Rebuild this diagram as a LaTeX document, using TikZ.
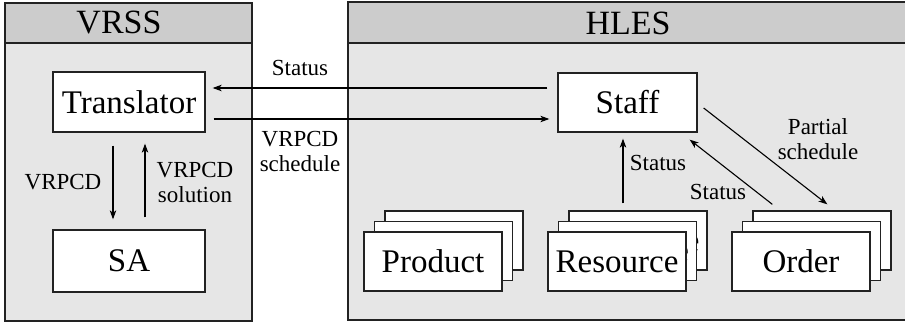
\documentclass[tikz,border=0pt]{standalone}
\usepackage{fontspec}
\setmainfont{Liberation Serif}
\usetikzlibrary{arrows.meta,calc}
\definecolor{headgrey}{HTML}{CCCCCC}
\definecolor{bodygrey}{HTML}{E6E6E6}
\definecolor{edgegrey}{HTML}{222222}

% three stacked cards: front one named #1, the ones behind #1M and #1B;
% #3 is the front label, #4 the label printed on the cards behind it
\newcommand\cardstack[4]{%
  \node[card] (#1B) at ($#2+(21,-21)$) {#4};
  \node[card] (#1M) at ($#2+(10.5,-10.5)$) {#4};
  \node[card] (#1)  at #2 {#3};
}

\begin{document}
\begin{tikzpicture}[x=1pt,y=-1pt,
  panelline/.style={draw=edgegrey, line width=2.2pt},
  box/.style={draw=edgegrey, line width=1.3pt, fill=white, inner sep=0pt,
    font=\fontsize{33}{36}\selectfont},
  card/.style={box, minimum width=138pt, minimum height=59pt},
  title/.style={inner sep=0pt, font=\fontsize{34}{36}\selectfont},
  lbl/.style={inner sep=0pt, align=center, font=\fontsize{23}{25}\selectfont},
  arr/.style={draw=black, line width=1.1pt, -{Stealth[length=9pt,width=6.5pt,inset=2.5pt]}}
]
\useasboundingbox (0,0) rectangle (905,323);

% the two subsystem panels
\draw[panelline, fill=bodygrey] (5,3) rectangle (252,321);
\draw[panelline, fill=headgrey] (5,3) rectangle (252,43);
\node[title] (vrss) at (119,23) {VRSS};

\draw[panelline, fill=bodygrey] (348,2) rectangle (915,320);
\draw[panelline, fill=headgrey] (348,2) rectangle (915,43);
\node[title] (hles) at (628,23) {HLES};

% VRSS components
\node[box, minimum width=152pt, minimum height=60pt] (Translator) at (129,102) {Translator};
\node[box, minimum width=152pt, minimum height=62pt] (SA) at (129,261) {SA};

% HLES components
\node[box, minimum width=139pt, minimum height=59pt] (Staff) at (627.5,102.5) {Staff};
\cardstack{Product}{(433,261.5)}{Product}{}
\cardstack{Resource}{(617,261.5)}{Resource}{Resource}
\cardstack{Order}{(801,261.5)}{Order}{}

% messages between the subsystems
\draw[arr, shorten <=10pt, shorten >=7pt]
  ([yshift=14.5pt]Staff.west) -- ([yshift=14.5pt]Staff.west -| Translator.east);
\draw[arr, shorten <=8pt, shorten >=8pt]
  ([yshift=-17pt]Translator.east) -- ([yshift=-17pt]Translator.east -| Staff.west);
\node[lbl] (lstatus) at (300,68) {Status};
\node[lbl] (lsched) at (300,151) {VRPCD\\schedule};

% inside VRSS
\draw[arr, shorten <=13pt, shorten >=10pt]
  ([xshift=-16pt]Translator.south) -- ([xshift=-16pt]Translator.south |- SA.north);
\draw[arr, shorten <=12pt, shorten >=11pt]
  ([xshift=16pt]SA.north) -- ([xshift=16pt]SA.north |- Translator.south);
\node[lbl] (lvrpcd) at (63,182) {VRPCD};
\node[lbl] (lsol) at (195,182.5) {VRPCD\\solution};

% inside HLES
\draw[arr, shorten <=7pt, shorten >=6pt]
  ([xshift=-4.5pt]Staff.south |- ResourceB.north) -- ([xshift=-4.5pt]Staff.south);
\node[lbl] (lstat1) at (658,163) {Status};
\draw[arr] ($(OrderB.north west)+(20,-6)$) -- ($(Staff.south east)+(-8,7)$);
\node[lbl] (lstat2) at (718,192) {Status};
\draw[arr] ($(Staff.east)+(6,5.5)$) -- ($(OrderB.north west)+(75,-6)$);
\node[lbl] (lpart) at (818,139) {Partial\\schedule};
\end{tikzpicture}
\end{document}
